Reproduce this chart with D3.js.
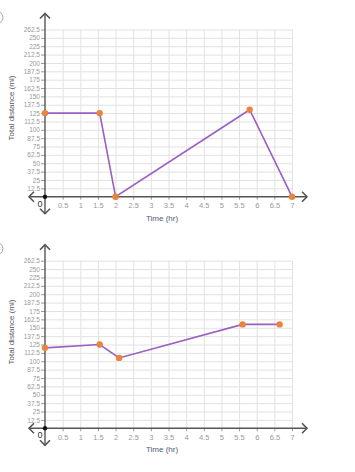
<!DOCTYPE html>
<html>
<head>
<meta charset="utf-8">
<script src="https://cdn.jsdelivr.net/npm/d3@7"></script>
<style>
  body { margin: 0; background: #fff; }
  svg { display: block; font-family: "Liberation Sans", Arial, sans-serif; }
</style>
</head>
<body>
<svg width="355" height="472"></svg>
<script>
// x ticks (hours)
var xTicks = [0.5, 1, 1.5, 2, 2.5, 3, 3.5, 4, 4.5, 5, 5.5, 6, 6.5, 7];
// y tick labels as printed on the graph (note: 237.5 is missing in the original)
var yTickLabels = ["12.5", "25", "37.5", "50", "62.5", "75", "87.5", "100", "112.5", "125",
  "137.5", "150", "162.5", "175", "187.5", "200", "212.5", "225", "250", "262.5"];

// graph 1
var topTimes = [0, 1.55, 2, 5.8, 7];
var topDist = [125, 125, 0, 130, 0];
// graph 2
var bottomTimes = [0, 1.55, 2.1, 5.6, 6.65];
var bottomDist = [120, 125, 105, 155, 155];

var svg = d3.select("svg");

var lineColor = "#9b5fc0",
    dotColor = "#e8843c",
    axisColor = "#555";

var x = d3.scaleLinear().domain([0, 7]).range([45, 292]);

function chevron(g, x0, y0, dir) {
  var s = 5, p;
  if (dir == "up") p = [[x0 - s, y0 + s], [x0, y0], [x0 + s, y0 + s]];
  if (dir == "down") p = [[x0 - s, y0 - s], [x0, y0], [x0 + s, y0 - s]];
  if (dir == "left") p = [[x0 + s, y0 - s], [x0, y0], [x0 + s, y0 + s]];
  if (dir == "right") p = [[x0 - s, y0 - s], [x0, y0], [x0 - s, y0 + s]];
  g.append("path")
      .attr("d", d3.line()(p))
      .attr("fill", "none")
      .attr("stroke", axisColor)
      .attr("stroke-width", 1.6);
}

function drawGraph(y0, yTop, times, dist, titleY) {
  var g = svg.append("g");
  var y = d3.scaleLinear().domain([0, 250]).range([y0, yTop]);
  var yVals = d3.range(1, 21).map(function(i) { return i * 12.5; });

  // grid
  g.append("g")
      .attr("transform", "translate(0," + y0 + ")")
      .call(d3.axisBottom(x).tickValues(xTicks).tickSize(-(y0 - yTop)).tickFormat(""))
      .call(function(a) {
        a.select(".domain").remove();
        a.selectAll("line").attr("stroke", "#e2e2e2").attr("stroke-width", 1);
      });
  g.append("g")
      .attr("transform", "translate(45,0)")
      .call(d3.axisLeft(y).tickValues(yVals).tickSize(-(x(7) - 45)).tickFormat(""))
      .call(function(a) {
        a.select(".domain").remove();
        a.selectAll("line").attr("stroke", "#e2e2e2").attr("stroke-width", 1);
      });

  // y ticks + labels
  g.append("g")
      .attr("transform", "translate(45,0)")
      .call(d3.axisLeft(y).tickValues(yVals).tickSize(4).tickPadding(1)
        .tickFormat(function(d, i) { return yTickLabels[i]; }))
      .call(function(a) {
        a.select(".domain").remove();
        a.selectAll("line").attr("stroke", "#999");
        a.selectAll("text").attr("fill", "#999").attr("font-size", 6.5)
          .attr("font-family", "Liberation Sans, Arial, sans-serif");
      });

  // x ticks + labels
  g.append("g")
      .attr("transform", "translate(0," + y0 + ")")
      .call(d3.axisBottom(x).tickValues(xTicks).tickSize(3).tickPadding(3)
        .tickFormat(function(d) { return d; }))
      .call(function(a) {
        a.select(".domain").remove();
        a.selectAll("line").attr("stroke", "#999");
        a.selectAll("text").attr("fill", "#999").attr("font-size", 7.5)
          .attr("font-family", "Liberation Sans, Arial, sans-serif");
      });

  // axes with arrows
  g.append("line").attr("x1", 29).attr("x2", 307).attr("y1", y0).attr("y2", y0)
      .attr("stroke", axisColor).attr("stroke-width", 1.4);
  g.append("line").attr("x1", 45).attr("x2", 45).attr("y1", yTop - 16).attr("y2", y0 + 17)
      .attr("stroke", axisColor).attr("stroke-width", 1.4);
  chevron(g, 29, y0, "left");
  chevron(g, 307, y0, "right");
  chevron(g, 45, yTop - 16, "up");
  chevron(g, 45, y0 + 17, "down");
  g.append("circle").attr("cx", 45).attr("cy", y0).attr("r", 2.2).attr("fill", "#111");

  g.append("text").attr("x", 40).attr("y", y0 + 10)
      .attr("text-anchor", "middle").attr("font-size", 9).attr("fill", "#333").text("0");

  // axis titles
  g.append("text").attr("x", 162).attr("y", y0 + 24)
      .attr("text-anchor", "middle").attr("font-size", 8).attr("fill", "#4d5a75")
      .text("Time (hr)");
  g.append("text")
      .attr("transform", "translate(14," + titleY + ") rotate(-90)")
      .attr("text-anchor", "middle").attr("font-size", 8).attr("fill", "#555")
      .text("Total distance (mi)");

  var pts = times.map(function(t, i) { return [t, dist[i]]; });
  g.append("path")
      .datum(pts)
      .attr("d", d3.line().x(function(d) { return x(d[0]); }).y(function(d) { return y(d[1]); }))
      .attr("fill", "none")
      .attr("stroke", lineColor)
      .attr("stroke-width", 1.6);
  g.selectAll(".dot")
      .data(pts)
      .enter().append("circle")
      .attr("cx", function(d) { return x(d[0]); })
      .attr("cy", function(d) { return y(d[1]); })
      .attr("r", 3.2)
      .attr("fill", dotColor);

  // edge of the radio button
  g.append("circle").attr("cx", -3).attr("cy", yTop - 12).attr("r", 6)
      .attr("fill", "none").attr("stroke", "#aaa").attr("stroke-width", 1);
}

drawGraph(196.7, 29.5, topTimes, topDist, 108);
drawGraph(428.3, 260.7, bottomTimes, bottomDist, 332);
</script>
</body>
</html>
